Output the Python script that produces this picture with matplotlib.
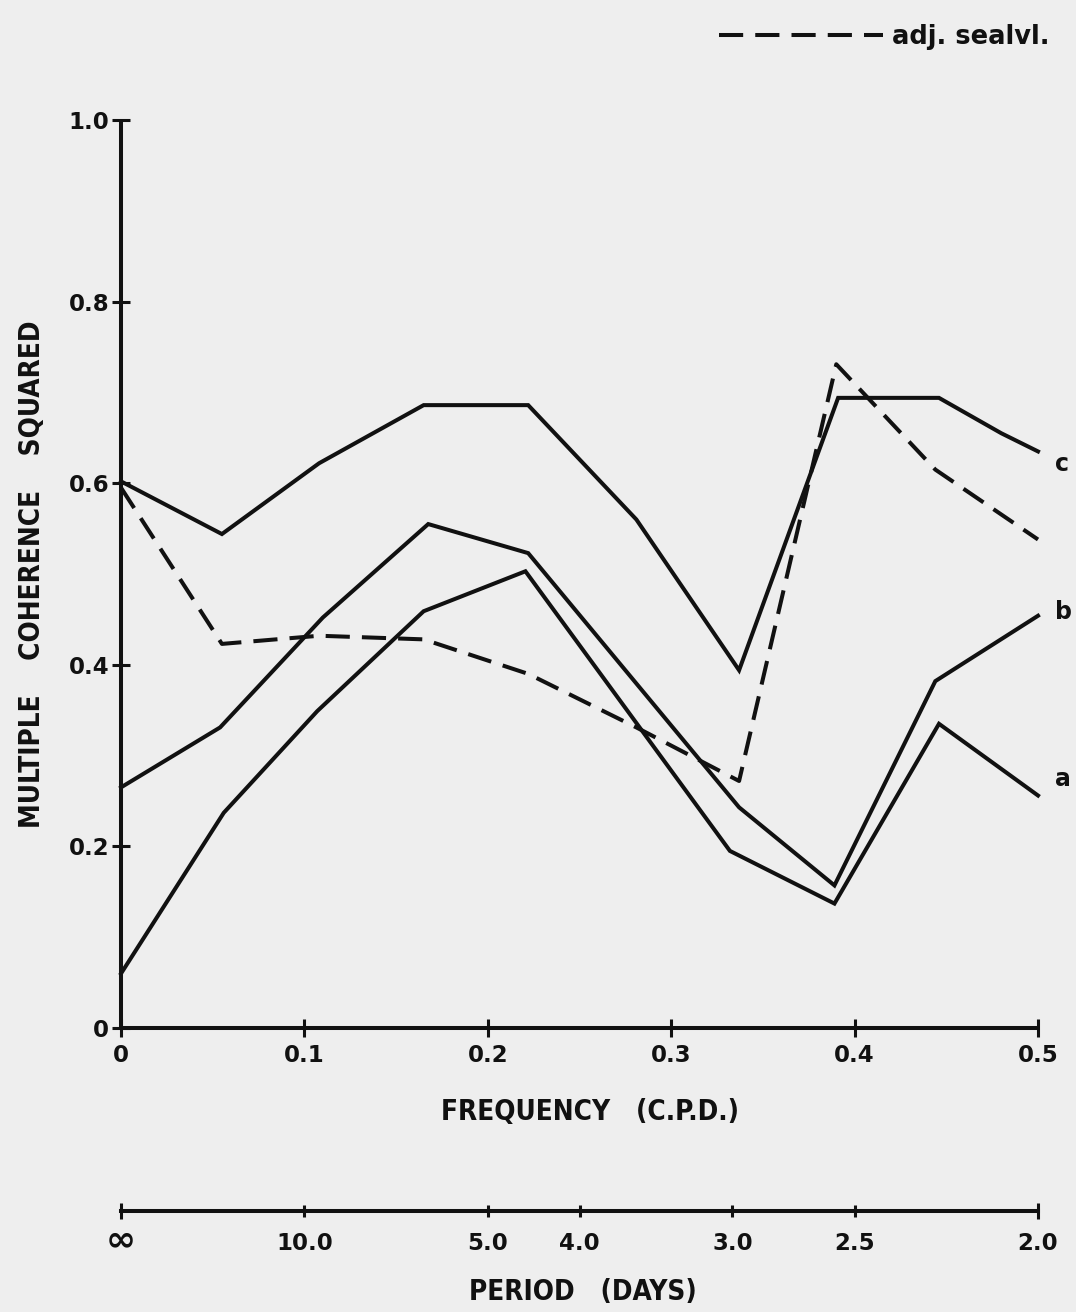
import matplotlib
matplotlib.use("Agg")
import matplotlib.pyplot as plt

###############################################################################
# Data

# curve a
freq_a = [0.0, 0.056, 0.107, 0.165, 0.2205, 0.332, 0.389, 0.446, 0.5]
coh_a = [0.06, 0.237, 0.349, 0.459, 0.503, 0.195, 0.137, 0.335, 0.256]

# curve b
freq_b = [0.0, 0.054, 0.110, 0.1675, 0.222, 0.337, 0.389, 0.444, 0.5]
coh_b = [0.265, 0.331, 0.452, 0.555, 0.523, 0.243, 0.157, 0.382, 0.454]

# curve c
freq_c = [0.0, 0.055, 0.108, 0.165, 0.222, 0.281, 0.337, 0.391, 0.446, 0.480, 0.5]
coh_c = [0.602, 0.544, 0.622, 0.686, 0.686, 0.56, 0.394, 0.694, 0.694, 0.655, 0.635]

# adjusted sea level (dashed)
freq_sl = [0.0, 0.055, 0.108, 0.165, 0.222, 0.281, 0.337, 0.39, 0.444, 0.5]
coh_sl = [0.595, 0.423, 0.432, 0.428, 0.39, 0.331, 0.272, 0.731, 0.615, 0.538]

freq_ticks = [0.0, 0.1, 0.2, 0.3, 0.4, 0.5]
freq_labels = ["0", "0.1", "0.2", "0.3", "0.4", "0.5"]
coh_ticks = [0.0, 0.2, 0.4, 0.6, 0.8, 1.0]
coh_labels = ["0", "0.2", "0.4", "0.6", "0.8", "1.0"]

period_days = [10.0, 5.0, 4.0, 3.0, 2.5]
period_labels = ["10.0", "5.0", "4.0", "3.0", "2.5"]
period_end_labels = ["\u221e", "2.0"]

###############################################################################
# Style
ink = "#111111"
paper = "#eeeeee"
lw = 2.9
font = dict(family="DejaVu Sans", weight="bold", stretch="condensed")
plt.rcParams["font.family"] = "DejaVu Sans"
plt.rcParams["font.weight"] = "bold"

fig = plt.figure(figsize=(10.76, 13.12), dpi=100, facecolor=paper)

# main axes
ax = fig.add_axes([0.1125, 0.2165, 0.8522, 0.692])
ax.set_facecolor(paper)
ax.set_xlim(0, 0.5)
ax.set_ylim(0, 1.0)
for side in ("top", "right"):
    ax.spines[side].set_visible(False)
for side in ("left", "bottom"):
    ax.spines[side].set_linewidth(lw)
    ax.spines[side].set_color(ink)
    ax.spines[side].set_capstyle("butt")

ax.plot(freq_a, coh_a, color=ink, lw=lw, solid_joinstyle="miter", clip_on=False)
ax.plot(freq_b, coh_b, color=ink, lw=lw, solid_joinstyle="miter", clip_on=False)
ax.plot(freq_c, coh_c, color=ink, lw=lw, solid_joinstyle="miter", clip_on=False)
sl_line, = ax.plot(freq_sl, coh_sl, color=ink, lw=lw, dashes=(6, 3),
                   clip_on=False)

ax.set_xticks(freq_ticks, freq_labels, fontsize=16.5)
ax.set_yticks(coh_ticks, coh_labels, fontsize=16.5)
ax.tick_params(axis="both", direction="inout", length=13, width=2.2,
               color=ink, labelcolor=ink)
ax.tick_params(axis="x", pad=5)
ax.tick_params(axis="y", pad=2)

# curve labels
curve_tags = [("a", freq_a, coh_a, (12, 12)), ("b", freq_b, coh_b, (12, 3)),
              ("c", freq_c, coh_c, (12, -9))]
for tag, fx, cy, off in curve_tags:
    ax.annotate(tag, (fx[-1], cy[-1]), xytext=off, textcoords="offset points",
                ha="left", va="center", fontsize=17, fontweight="bold",
                color=ink, annotation_clip=False)

# legend for the dashed curve
ax.legend([sl_line], ["adj. sealvl."], loc="upper right",
          bbox_to_anchor=(0.997, 0.999), bbox_transform=fig.transFigure,
          frameon=False, handlelength=6.4, handletextpad=0.35,
          prop=dict(size=18.5, weight="bold"), labelcolor=ink)

fig.text(0.548, 1 - 1112 / 1312, "FREQUENCY   (C.P.D.)", ha="center",
         va="center", fontsize=20, color=ink, **font)
fig.text(0.030, 1 - 574 / 1312, "MULTIPLE    COHERENCE    SQUARED",
         rotation=90, ha="center", va="center", fontsize=20, color=ink, **font)

# period scale below
ax2 = fig.add_axes([0.1125, 1 - 1211 / 1312, 0.8522, 0.001])
ax2.set_facecolor("none")
ax2.set_xlim(0, 0.5)
ax2.set_yticks([])
for side in ("top", "right", "left"):
    ax2.spines[side].set_visible(False)
ax2.spines["bottom"].set_linewidth(lw)
ax2.spines["bottom"].set_color(ink)
ax2.set_xticks([0.0, 0.5], period_end_labels, fontsize=16.5)
ax2.set_xticks([1.0 / p for p in period_days], period_labels, minor=True,
               fontsize=16.5)
ax2.tick_params(axis="x", which="major", direction="inout", length=12,
                width=2.2, pad=9, color=ink, labelcolor=ink)
ax2.tick_params(axis="x", which="minor", direction="inout", length=9,
                width=2.2, pad=10.5, color=ink, labelcolor=ink)
# the infinity sign is drawn much larger in the original lettering
inf_tick = ax2.xaxis.get_major_ticks()[0]
inf_tick.label1.set_fontsize(26)
inf_tick.set_pad(3)

fig.text(0.542, 1 - 1292 / 1312, "PERIOD   (DAYS)", ha="center",
         va="center", fontsize=20, color=ink, **font)

fig.savefig("out.png", dpi=100, facecolor=paper)
